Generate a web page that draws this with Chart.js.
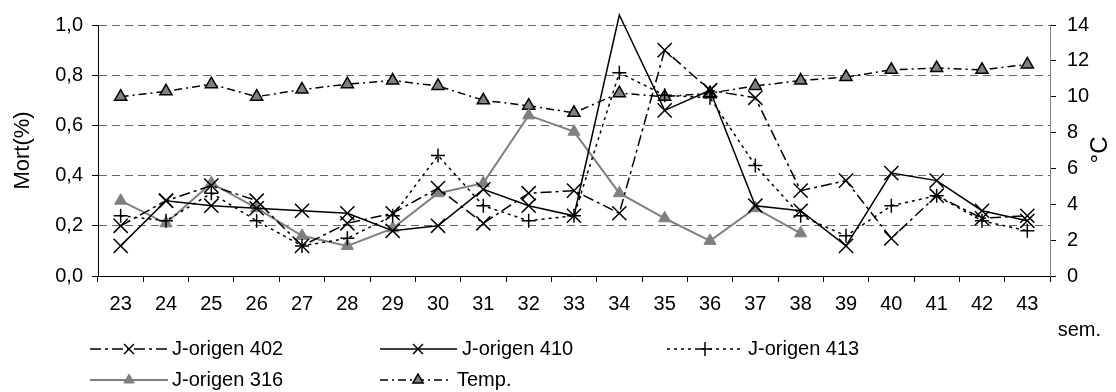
<!DOCTYPE html>
<html>
<head>
<meta charset="utf-8">
<script src="https://cdn.jsdelivr.net/npm/chart.js@4"></script>
<style>
  body { margin: 0; background: #fff; }
  canvas { display: block; }
</style>
</head>
<body>
<canvas id="chart" width="1116" height="392"></canvas>
<script>
// weeks and weekly values
const weeks = ['23', '24', '25', '26', '27', '28', '29', '30', '31', '32', '33',
               '34', '35', '36', '37', '38', '39', '40', '41', '42', '43'];
const mort402 = [0.20, 0.30, 0.36, 0.30, 0.12, 0.21, 0.25, 0.35, 0.21, 0.33, 0.34,
                 0.25, 0.90, 0.74, 0.71, 0.34, 0.38, 0.15, 0.32, 0.23, 0.24];
const mort410 = [0.12, 0.30, 0.28, 0.27, 0.26, 0.25, 0.18, 0.20, 0.345, 0.28, 0.24,
                 1.04, 0.66, 0.74, 0.28, 0.26, 0.12, 0.41, 0.38, 0.26, 0.22];
const mort413 = [0.24, 0.22, 0.33, 0.22, 0.12, 0.15, 0.24, 0.48, 0.28, 0.22, 0.24,
                 0.81, 0.72, 0.71, 0.44, 0.24, 0.16, 0.28, 0.32, 0.22, 0.18];
const mort316 = [0.30, 0.21, 0.37, 0.27, 0.16, 0.12, 0.19, 0.33, 0.37, 0.64, 0.575,
                 0.33, 0.23, 0.14, 0.27, 0.17, null, null, null, null, null];
const tempC = [10.0, 10.3, 10.7, 10.0, 10.4, 10.7, 10.9, 10.6, 9.8, 9.5, 9.1,
               10.2, 10.0, 10.2, 10.6, 10.9, 11.1, 11.5, 11.6, 11.5, 11.8];

const FONT = '"Liberation Sans", Arial, sans-serif';
const GRAY = '#808080';

// legend laid out in two rows under the axis
const legendRows = [
  { ds: 0, x0: 90, x1: 168, xm: 129, xt: 172, y: 349 },
  { ds: 1, x0: 380, x1: 457, xm: 418, xt: 462, y: 349 },
  { ds: 2, x0: 667, x1: 740, xm: 705, xt: 748, y: 349 },
  { ds: 3, x0: 90, x1: 168, xm: 129, xt: 172, y: 380 },
  { ds: 4, x0: 380, x1: 448, xm: 418, xt: 457, y: 380 }
];

const extras = {
  id: 'extras',
  afterDraw(chart) {
    const ctx = chart.ctx;
    ctx.save();
    ctx.fillStyle = '#000';
    ctx.font = '20px ' + FONT;
    ctx.textBaseline = 'middle';

    legendRows.forEach(item => {
      const ds = chart.data.datasets[item.ds];
      ctx.save();
      ctx.strokeStyle = ds.borderColor;
      ctx.lineWidth = ds.borderWidth;
      ctx.setLineDash(ds.borderDash || []);
      ctx.beginPath();
      ctx.moveTo(item.x0, item.y);
      ctx.lineTo(item.x1, item.y);
      ctx.stroke();
      ctx.setLineDash([]);
      ctx.fillStyle = ds.pointBackgroundColor;
      ctx.strokeStyle = ds.pointBorderColor;
      ctx.lineWidth = ds.pointBorderWidth;
      Chart.helpers.drawPoint(ctx, {
        pointStyle: ds.pointStyle,
        radius: ds.pointStyle === 'triangle' ? 6 : 7,
        rotation: 0,
        borderWidth: ds.pointBorderWidth
      }, item.xm, item.y);
      ctx.restore();
      ctx.textAlign = 'left';
      ctx.fillText(ds.label, item.xt, item.y);
    });

    ctx.textAlign = 'right';
    ctx.fillText('sem.', 1101, 330);

    // right axis unit, reading upwards like the left one
    ctx.translate(1100, 150);
    ctx.rotate(-Math.PI / 2);
    ctx.textAlign = 'center';
    ctx.font = '24px ' + FONT;
    ctx.fillText('°C', 0, 0);
    ctx.restore();
  }
};

new Chart(document.getElementById('chart'), {
  type: 'line',
  data: {
    labels: weeks,
    datasets: [
      {
        label: 'J-origen 402',
        data: mort402,
        yAxisID: 'y',
        borderColor: '#000',
        borderWidth: 1.5,
        borderDash: [11, 4, 3, 4],
        pointStyle: 'crossRot',
        pointRadius: 10,
        pointBorderWidth: 1.5,
        pointBorderColor: '#000',
        pointBackgroundColor: '#000'
      },
      {
        label: 'J-origen 410',
        data: mort410,
        yAxisID: 'y',
        clip: false,
        borderColor: '#000',
        borderWidth: 1.5,
        pointStyle: 'crossRot',
        pointRadius: c => (c.parsed && c.parsed.y > 1 ? 0 : 10),
        pointBorderWidth: 1.5,
        pointBorderColor: '#000',
        pointBackgroundColor: '#000'
      },
      {
        label: 'J-origen 413',
        data: mort413,
        yAxisID: 'y',
        borderColor: '#000',
        borderWidth: 1.5,
        borderDash: [3, 4],
        pointStyle: 'cross',
        pointRadius: 7,
        pointBorderWidth: 1.5,
        pointBorderColor: '#000',
        pointBackgroundColor: '#000'
      },
      {
        label: 'J-origen 316',
        data: mort316,
        yAxisID: 'y',
        borderColor: GRAY,
        borderWidth: 2,
        pointStyle: 'triangle',
        pointRadius: 7,
        pointBorderWidth: 1,
        pointBorderColor: GRAY,
        pointBackgroundColor: GRAY
      },
      {
        label: 'Temp.',
        data: tempC,
        yAxisID: 'y1',
        borderColor: '#000',
        borderWidth: 1.5,
        borderDash: [8, 4, 2, 4],
        pointStyle: 'triangle',
        pointRadius: 7,
        pointBorderWidth: 1.5,
        pointBorderColor: '#000',
        pointBackgroundColor: GRAY
      }
    ]
  },
  options: {
    responsive: false,
    animation: false,
    layout: { padding: { top: 25, bottom: 66, left: 0, right: 0 } },
    plugins: {
      legend: { display: false },
      tooltip: { enabled: false }
    },
    elements: { line: { tension: 0 } },
    scales: {
      x: {
        offset: true,
        afterFit(scale) { scale.height = 50; },
        grid: {
          offset: true,
          drawOnChartArea: false,
          tickLength: 6,
          color: '#000'
        },
        border: { color: '#000' },
        ticks: {
          color: '#000',
          padding: 10,
          maxRotation: 0,
          autoSkip: false,
          font: { family: FONT, size: 20 }
        }
      },
      y: {
        position: 'left',
        min: 0,
        max: 1,
        afterFit(scale) { scale.width = 98; },
        grid: {
          color: c => (c.tick && c.tick.value === 0 ? 'rgba(0,0,0,0)' : '#666'),
          tickColor: '#000',
          tickLength: 6
        },
        border: { color: '#000', dash: [8, 5] },
        ticks: {
          stepSize: 0.2,
          color: '#000',
          padding: 9,
          font: { family: FONT, size: 20 },
          callback: v => v.toFixed(1).replace('.', ',')
        },
        title: {
          display: true,
          text: 'Mort(%)',
          color: '#000',
          padding: { top: 10, bottom: 0 },
          font: { family: FONT, size: 22 }
        }
      },
      y1: {
        position: 'right',
        min: 0,
        max: 14,
        afterFit(scale) { scale.width = 66; },
        grid: {
          drawOnChartArea: false,
          color: '#000',
          tickLength: 6
        },
        border: { color: GRAY },
        ticks: {
          stepSize: 2,
          color: '#000',
          padding: 11,
          font: { family: FONT, size: 20 }
        }
      }
    }
  },
  plugins: [extras]
});
</script>
</body>
</html>
